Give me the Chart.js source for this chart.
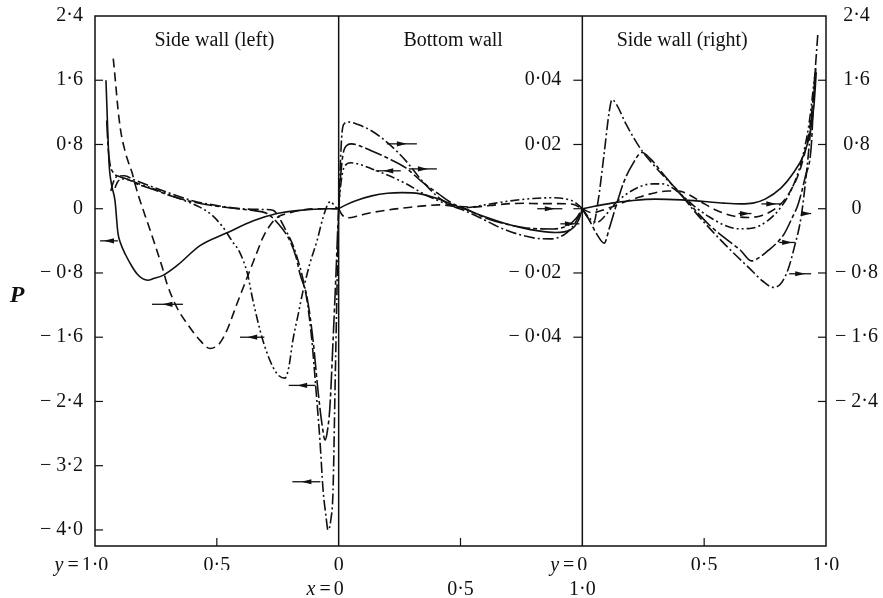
<!DOCTYPE html>
<html>
<head>
<meta charset="utf-8">
<script src="https://cdn.jsdelivr.net/npm/chart.js@4.4.0/dist/chart.umd.min.js"></script>
<style>
  html, body { margin: 0; padding: 0; background: #fff; }
  #wrap { width: 883px; height: 598px; }
</style>
</head>
<body>
<div id="wrap"><canvas id="wallChart" width="883" height="598"></canvas></div>
<script>
// Wall pressure P along the three walls of the cavity.
// Each curve is [wall coordinate, P]. Side walls use y, bottom wall uses x.

// side wall (left), y runs from 1.0 down to 0
const leftSolid = [[0.955,1.6],[0.948,1.0],[0.942,0.55],[0.932,0.3],[0.918,0.1],[0.906,-0.3],[0.895,-0.43],[0.875,-0.57],[0.85,-0.71],[0.828,-0.81],[0.805,-0.87],[0.783,-0.89],[0.76,-0.87],[0.721,-0.83],[0.664,-0.71],[0.569,-0.46],[0.458,-0.3],[0.35,-0.15],[0.253,-0.06],[0.16,-0.02],[0.05,0],[0,0]];
const leftDashed = [[0.925,1.87],[0.915,1.55],[0.906,1.25],[0.895,0.98],[0.877,0.72],[0.862,0.57],[0.848,0.45],[0.836,0.31],[0.815,0.1],[0.795,-0.08],[0.77,-0.3],[0.746,-0.52],[0.725,-0.72],[0.705,-0.93],[0.664,-1.23],[0.622,-1.43],[0.569,-1.64],[0.528,-1.74],[0.505,-1.72],[0.487,-1.67],[0.458,-1.51],[0.417,-1.18],[0.376,-0.86],[0.34,-0.58],[0.311,-0.36],[0.28,-0.2],[0.253,-0.11],[0.2,-0.05],[0.159,-0.02],[0.08,0],[0,0]];
const leftDashDotDot = [[0.918,0.26],[0.908,0.33],[0.89,0.37],[0.86,0.36],[0.82,0.31],[0.76,0.25],[0.7,0.18],[0.631,0.1],[0.57,0.02],[0.52,-0.08],[0.475,-0.23],[0.438,-0.4],[0.405,-0.55],[0.375,-0.8],[0.352,-1.14],[0.311,-1.64],[0.27,-1.97],[0.245,-2.08],[0.22,-2.11],[0.205,-1.98],[0.188,-1.64],[0.165,-1.3],[0.146,-1.02],[0.118,-0.68],[0.089,-0.4],[0.065,-0.12],[0.044,0.06],[0.032,0.09],[0.023,0.06],[0.012,0.02],[0,0]];
const leftChain = [[0.952,1.1],[0.946,0.75],[0.938,0.55],[0.925,0.45],[0.9,0.4],[0.869,0.37],[0.82,0.3],[0.76,0.24],[0.7,0.17],[0.62,0.1],[0.52,0.04],[0.44,0.01],[0.36,-0.02],[0.294,-0.06],[0.25,-0.18],[0.2,-0.4],[0.175,-0.6],[0.159,-0.81],[0.13,-1.1],[0.105,-1.64],[0.085,-2.26],[0.069,-2.67],[0.056,-2.88],[0.048,-2.8],[0.036,-2.47],[0.023,-1.64],[0.011,-0.81],[0.003,-0.19],[0,0]];
const leftDashDot = [[0.935,0.22],[0.925,0.33],[0.91,0.4],[0.88,0.41],[0.84,0.36],[0.78,0.29],[0.7,0.2],[0.6,0.1],[0.5,0.04],[0.4,0],[0.3,-0.01],[0.27,-0.02],[0.22,-0.25],[0.171,-0.6],[0.13,-1.14],[0.11,-1.64],[0.093,-2.26],[0.077,-2.88],[0.064,-3.5],[0.052,-3.83],[0.044,-4.0],[0.032,-3.87],[0.023,-3.5],[0.015,-2.26],[0.007,-1.02],[0,0]];

// bottom wall, x runs from 0 to 1.0
const bottomSolid = [[0,0],[0.03,0.0012],[0.07,0.0025],[0.136,0.004],[0.2,0.0048],[0.26,0.005],[0.33,0.0047],[0.41,0.003],[0.47,0.0012],[0.52,-0.0002],[0.6,-0.0025],[0.68,-0.0045],[0.75,-0.0059],[0.82,-0.0069],[0.89,-0.0074],[0.95,-0.0066],[0.985,-0.0035],[1,0]];
const bottomDashed = [[0,0],[0.015,-0.002],[0.04,-0.0028],[0.09,-0.002],[0.136,-0.0012],[0.2,-0.0004],[0.276,0.0003],[0.35,0.0009],[0.41,0.0012],[0.48,0.0008],[0.547,0.0005],[0.62,0.001],[0.687,0.0015],[0.76,0.0017],[0.823,0.0016],[0.9,0.0016],[0.96,0.0014],[1,0]];
const bottomDashDotDot = [[0,0],[0.008,0.007],[0.02,0.0125],[0.05,0.0143],[0.09,0.0137],[0.136,0.0124],[0.2,0.0105],[0.276,0.0078],[0.34,0.005],[0.41,0.0025],[0.47,0.0008],[0.52,0.0003],[0.6,0.0012],[0.7,0.0024],[0.8,0.0032],[0.87,0.0034],[0.93,0.0031],[0.97,0.002],[1,0]];
const bottomChain = [[0,0],[0.008,0.01],[0.018,0.017],[0.035,0.0198],[0.053,0.0202],[0.1,0.0192],[0.136,0.018],[0.2,0.0158],[0.276,0.0127],[0.34,0.0085],[0.41,0.0046],[0.47,0.0015],[0.52,0],[0.6,-0.0028],[0.7,-0.005],[0.8,-0.0062],[0.88,-0.0063],[0.94,-0.0052],[0.975,-0.003],[1,0]];
const bottomDashDot = [[0,0],[0.006,0.012],[0.012,0.022],[0.02,0.0262],[0.04,0.027],[0.08,0.0262],[0.136,0.0242],[0.206,0.0202],[0.276,0.0149],[0.342,0.0087],[0.412,0.0034],[0.465,0.0009],[0.523,-0.0008],[0.588,-0.0031],[0.66,-0.0058],[0.74,-0.008],[0.81,-0.0092],[0.87,-0.0094],[0.93,-0.0078],[0.97,-0.0045],[1,0]];

// side wall (right), y runs from 0 to 1.0
const rightSolid = [[0,0],[0.05,0.03],[0.12,0.07],[0.2,0.1],[0.3,0.12],[0.408,0.11],[0.5,0.09],[0.58,0.07],[0.65,0.06],[0.7,0.07],[0.75,0.12],[0.816,0.26],[0.86,0.42],[0.91,0.68],[0.935,0.95],[0.951,1.3],[0.96,1.7]];
const rightDashed = [[0,0],[0.04,-0.05],[0.1,0],[0.17,0.08],[0.24,0.15],[0.3,0.2],[0.35,0.22],[0.396,0.22],[0.44,0.17],[0.49,0.08],[0.55,-0.02],[0.62,-0.09],[0.68,-0.11],[0.74,-0.08],[0.8,0.02],[0.85,0.2],[0.9,0.55],[0.935,1.05],[0.955,1.6]];
const rightDashDotDot = [[0,0],[0.03,-0.12],[0.06,-0.17],[0.09,-0.1],[0.13,0.05],[0.18,0.18],[0.24,0.28],[0.29,0.31],[0.327,0.31],[0.37,0.26],[0.42,0.14],[0.46,0.03],[0.52,-0.1],[0.58,-0.2],[0.64,-0.25],[0.7,-0.24],[0.76,-0.15],[0.81,0],[0.86,0.25],[0.9,0.6],[0.93,1.05],[0.95,1.55],[0.958,1.75]];
const rightChain = [[0,0],[0.03,-0.15],[0.06,-0.32],[0.09,-0.43],[0.11,-0.25],[0.14,0.05],[0.17,0.33],[0.2,0.52],[0.245,0.7],[0.28,0.62],[0.33,0.44],[0.39,0.22],[0.449,0.03],[0.52,-0.2],[0.6,-0.4],[0.65,-0.52],[0.694,-0.65],[0.73,-0.6],[0.763,-0.52],[0.8,-0.42],[0.829,-0.31],[0.86,-0.12],[0.886,0.06],[0.915,0.4],[0.939,0.76],[0.951,1.45],[0.958,1.75]];
const rightDashDot = [[0,0],[0.02,-0.1],[0.045,-0.19],[0.065,0.1],[0.09,0.7],[0.11,1.2],[0.122,1.36],[0.14,1.3],[0.18,1.05],[0.245,0.72],[0.3,0.52],[0.339,0.39],[0.4,0.2],[0.449,0.01],[0.5,-0.17],[0.571,-0.4],[0.63,-0.58],[0.682,-0.73],[0.74,-0.9],[0.784,-0.98],[0.815,-0.93],[0.845,-0.75],[0.87,-0.48],[0.898,-0.1],[0.92,0.45],[0.94,1.1],[0.955,1.7],[0.967,2.2]];

// arrows tying each curve to its axis: [from, to, P]
const leftArrows = [[0.906,0.979,-0.4],[0.639,0.766,-1.19],[0.305,0.405,-1.6],[0.095,0.205,-2.2],[0.075,0.19,-3.4]];
const bottomArrows = [[0.198,0.321,0.0202],[0.255,0.152,0.0118],[0.288,0.403,0.0124],[0.815,0.918,0],[0.91,0.988,-0.0047]];
const rightArrows = [[0.641,0.694,-0.06],[0.735,0.816,0.06],[0.898,0.939,-0.06],[0.808,0.873,-0.42],[0.849,0.939,-0.81]];

// axes
const sideTicks = [2.4, 1.6, 0.8, 0, -0.8, -1.6, -2.4, -3.2, -4.0];
const rightTicks = [2.4, 1.6, 0.8, 0, -0.8, -1.6, -2.4];
const bottomTicks = [0.04, 0.02, 0, -0.02, -0.04];
const bottomTickLabels = [0.04, 0.02, -0.02, -0.04];
const sideCoordTicks = [1.0, 0.5, 0];
const bottomCoordTicks = [0, 0.5, 1.0];
const panelTitles = ['Side wall (left)', 'Bottom wall', 'Side wall (right)'];

const P_MIN = -4.2, P_MAX = 2.4;
const BOTTOM_SCALE = 40; // 0.02 on the bottom wall sits level with 0.8 on the side walls

const leftPos = y => 1 - y;
const bottomPos = x => 1 + x;
const rightPos = y => 2 + y;

const SOLID = [], DASHED = [9, 5], DASH_DOT = [11, 3, 2, 3], DASH_DOT_DOT = [9, 3, 2, 3, 2, 3], CHAIN = [18, 3, 4, 3];
const INK = '#111';
const FONT = "'Liberation Serif', 'DejaVu Serif', serif";
const LABEL_MID = 20; // tick label centre below the top of its axis box

function fmtDec(v, digits) {
  if (Math.abs(v) < 1e-9) return '0';
  return (v < 0 ? '\u2212 ' : '') + Math.abs(v).toFixed(digits).replace('.', '\u00b7');
}

function series(points, toPos, dash, axis) {
  return {
    data: points.map(function(p) { return { x: toPos(p[0]), y: p[1] }; }).sort(function(a, b) { return a.x - b.x; }),
    borderDash: dash,
    yAxisID: axis || 'y'
  };
}

const datasets = [
  series(leftSolid, leftPos, SOLID), series(leftDashed, leftPos, DASHED),
  series(leftDashDotDot, leftPos, DASH_DOT_DOT), series(leftChain, leftPos, CHAIN),
  series(leftDashDot, leftPos, DASH_DOT),
  series(bottomSolid, bottomPos, SOLID, 'yM'), series(bottomDashed, bottomPos, DASHED, 'yM'),
  series(bottomDashDotDot, bottomPos, DASH_DOT_DOT, 'yM'), series(bottomChain, bottomPos, CHAIN, 'yM'),
  series(bottomDashDot, bottomPos, DASH_DOT, 'yM'),
  series(rightSolid, rightPos, SOLID), series(rightDashed, rightPos, DASHED),
  series(rightDashDotDot, rightPos, DASH_DOT_DOT), series(rightChain, rightPos, CHAIN),
  series(rightDashDot, rightPos, DASH_DOT)
];

// x tick labels: first row is the side-wall y, second row the bottom-wall x
const topRowTicks = sideCoordTicks.map(function(v) { return { value: leftPos(v), label: fmtDec(v, v === 0 ? 0 : 1) }; })
  .concat(sideCoordTicks.slice().reverse().map(function(v) { return { value: rightPos(v), label: fmtDec(v, v === 0 ? 0 : 1) }; }));
const lowRowTicks = bottomCoordTicks.map(function(v) { return { value: bottomPos(v), label: fmtDec(v, v === 0 ? 0 : 1) }; });

function labelFor(list, value) {
  const t = list.find(function(t) { return Math.abs(t.value - value) < 1e-6; });
  return t ? t.label : '';
}

function drawArrow(ctx, x1, x2, y) {
  ctx.beginPath();
  ctx.moveTo(x1, y);
  ctx.lineTo(x2, y);
  ctx.stroke();
  const dir = Math.sign(x2 - x1);
  const tip = (x1 + x2) / 2 + dir * 5;
  ctx.beginPath();
  ctx.moveTo(tip, y);
  ctx.lineTo(tip - dir * 10, y - 2.6);
  ctx.lineTo(tip - dir * 10, y + 2.6);
  ctx.closePath();
  ctx.fill();
}

const wallFrame = {
  id: 'wallFrame',
  afterDatasetsDraw: function(chart) {
    const ctx = chart.ctx;
    const a = chart.chartArea;
    const x = chart.scales.x, y = chart.scales.y, yM = chart.scales.yM;
    ctx.save();
    ctx.strokeStyle = INK;
    ctx.fillStyle = INK;
    ctx.lineWidth = 1.5;
    ctx.strokeRect(a.left, a.top, a.right - a.left, a.bottom - a.top);
    [1, 2].forEach(function(p) {
      const px = x.getPixelForValue(p);
      ctx.beginPath(); ctx.moveTo(px, a.top); ctx.lineTo(px, a.bottom); ctx.stroke();
    });
    ctx.lineWidth = 1.2;
    // inward tick marks
    sideTicks.forEach(function(v) {
      if (v >= P_MAX) return;
      const py = y.getPixelForValue(v);
      ctx.beginPath(); ctx.moveTo(a.left, py); ctx.lineTo(a.left + 8, py); ctx.stroke();
    });
    rightTicks.forEach(function(v) {
      if (v >= P_MAX) return;
      const py = y.getPixelForValue(v);
      ctx.beginPath(); ctx.moveTo(a.right, py); ctx.lineTo(a.right - 8, py); ctx.stroke();
    });
    const divider = x.getPixelForValue(2);
    bottomTicks.forEach(function(v) {
      const py = yM.getPixelForValue(v);
      ctx.beginPath(); ctx.moveTo(divider, py); ctx.lineTo(divider - 9, py); ctx.stroke();
    });
    [0.5, 1.5, 2.5].forEach(function(p) {
      const px = x.getPixelForValue(p);
      ctx.beginPath(); ctx.moveTo(px, a.bottom); ctx.lineTo(px, a.bottom - 8); ctx.stroke();
    });

    // bottom wall scale, written beside its own divider
    ctx.font = '20px ' + FONT;
    ctx.textAlign = 'right';
    ctx.textBaseline = 'middle';
    bottomTickLabels.forEach(function(v) {
      ctx.fillText(fmtDec(v, 2), divider - 21, yM.getPixelForValue(v));
    });

    // panel titles
    ctx.textAlign = 'center';
    ctx.textBaseline = 'alphabetic';
    [0.49, 1.47, 2.41].forEach(function(p, i) {
      ctx.fillText(panelTitles[i], x.getPixelForValue(p), a.top + 30);
    });

    // arrows
    ctx.lineWidth = 1.3;
    leftArrows.forEach(function(r) {
      drawArrow(ctx, x.getPixelForValue(leftPos(r[0])), x.getPixelForValue(leftPos(r[1])), y.getPixelForValue(r[2]));
    });
    bottomArrows.forEach(function(r) {
      drawArrow(ctx, x.getPixelForValue(bottomPos(r[0])), x.getPixelForValue(bottomPos(r[1])), yM.getPixelForValue(r[2]));
    });
    rightArrows.forEach(function(r) {
      drawArrow(ctx, x.getPixelForValue(rightPos(r[0])), x.getPixelForValue(rightPos(r[1])), y.getPixelForValue(r[2]));
    });

    // P axis title
    ctx.font = 'italic bold 24px ' + FONT;
    ctx.textAlign = 'center';
    ctx.textBaseline = 'middle';
    ctx.fillText('P', 17, 296);

    // coordinate names in front of the first tick labels
    function prefix(name, scale, value, text) {
      ctx.font = '20px ' + FONT;
      const half = ctx.measureText(text).width / 2;
      const px = scale.getPixelForValue(value) - half - 3;
      const py = scale.top + scale.options.ticks.padding + LABEL_MID;
      ctx.textAlign = 'right';
      ctx.textBaseline = 'middle';
      ctx.fillText('=', px, py);
      const eq = ctx.measureText('=').width;
      ctx.font = 'italic 20px ' + FONT;
      ctx.fillText(name, px - eq - 4, py);
    }
    prefix('y', chart.scales.x, leftPos(1.0), labelFor(topRowTicks, leftPos(1.0)));
    prefix('y', chart.scales.x, rightPos(0), labelFor(topRowTicks, rightPos(0)));
    prefix('x', chart.scales.x2, bottomPos(0), labelFor(lowRowTicks, bottomPos(0)));
    ctx.restore();
  }
};

Chart.defaults.font.family = FONT;
Chart.defaults.font.size = 20;
Chart.defaults.color = INK;

const ctx = document.getElementById('wallChart').getContext('2d');
const chart = new Chart(ctx, {
  type: 'line',
  data: { datasets: datasets },
  options: {
    responsive: false,
    animation: false,
    layout: { padding: { top: 4, left: 0, right: 0, bottom: 0 } },
    elements: {
      point: { radius: 0 },
      line: { borderWidth: 1.6, borderColor: INK, fill: false, cubicInterpolationMode: 'monotone' }
    },
    plugins: { legend: { display: false }, tooltip: { enabled: false } },
    scales: {
      x: {
        type: 'linear', min: 0, max: 3, position: 'bottom', weight: 0,
        grid: { display: false }, border: { display: false },
        afterBuildTicks: function(s) { s.ticks = topRowTicks.map(function(t) { return { value: t.value }; }); },
        ticks: { padding: 0, autoSkip: false, maxRotation: 0, callback: function(v) { return labelFor(topRowTicks, v); } },
        afterFit: function(s) { s.height = 24; }
      },
      x2: {
        type: 'linear', min: 0, max: 3, position: 'bottom', weight: 1,
        grid: { display: false }, border: { display: false },
        afterBuildTicks: function(s) { s.ticks = lowRowTicks.map(function(t) { return { value: t.value }; }); },
        ticks: { padding: 0, autoSkip: false, maxRotation: 0, callback: function(v) { return labelFor(lowRowTicks, v); } },
        afterFit: function(s) { s.height = 28; }
      },
      y: {
        type: 'linear', min: P_MIN, max: P_MAX, position: 'left',
        grid: { display: false }, border: { display: false },
        afterBuildTicks: function(s) { s.ticks = sideTicks.map(function(v) { return { value: v }; }); },
        ticks: { padding: 4, autoSkip: false, callback: function(v) { return fmtDec(v, 1); } },
        afterFit: function(s) { s.width = 95; }
      },
      yR: {
        type: 'linear', min: P_MIN, max: P_MAX, position: 'right',
        grid: { display: false }, border: { display: false },
        afterBuildTicks: function(s) { s.ticks = rightTicks.map(function(v) { return { value: v }; }); },
        ticks: { padding: 1, crossAlign: 'center', autoSkip: false, callback: function(v) { return fmtDec(v, 1); } },
        afterFit: function(s) { s.width = 57; }
      },
      yM: {
        type: 'linear', display: false, min: P_MIN / BOTTOM_SCALE, max: P_MAX / BOTTOM_SCALE
      }
    }
  },
  plugins: [wallFrame]
});
</script>
</body>
</html>
